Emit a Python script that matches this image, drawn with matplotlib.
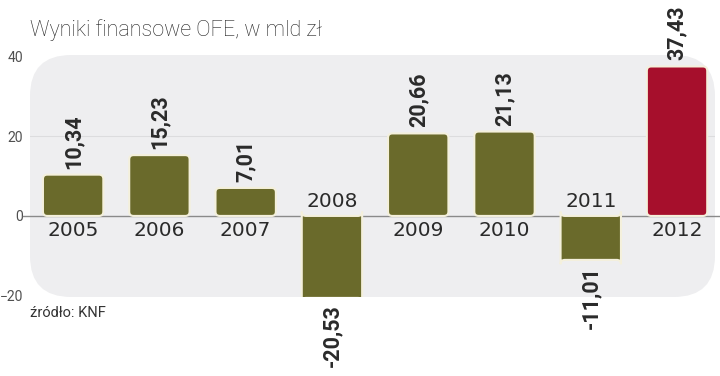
import matplotlib
matplotlib.use("Agg")
import matplotlib.pyplot as plt
from matplotlib.patches import FancyBboxPatch
from matplotlib.transforms import blended_transform_factory
import numpy as np

OLIVE, RED, PANEL, INK = "#6a6a2b", "#a60f2c", "#eeeef0", "#2a2a2a"

years = ["2005", "2006", "2007", "2008", "2009", "2010", "2011", "2012"]
values = [10.34, 15.23, 7.01, -20.53, 20.66, 21.13, -11.01, 37.43]
labels = ["10,34", "15,23", "7,01", "-20,53", "20,66", "21,13", "-11,01", "37,43"]
yticks = [-20, 0, 20, 40]

fig = plt.figure(figsize=(7.2, 3.76), dpi=100)
ax = fig.add_axes([30 / 720, 79 / 376, 685 / 720, 242 / 376])
ax.set_facecolor("none")
for s in ax.spines.values():
    s.set_visible(False)

panel = FancyBboxPatch((0, 0), 1, 1, boxstyle="round,pad=0,rounding_size=0.06",
                       mutation_aspect=685 / 242, transform=ax.transAxes,
                       facecolor=PANEL, edgecolor="none", zorder=0, clip_on=False)
ax.add_patch(panel)

ax.set_xlim(-0.5, 7.44)
ax.set_ylim(-20.3, 40.3)

x = np.arange(len(years))
colors = [OLIVE] * (len(years) - 1) + [RED]
bars = ax.bar(x, values, width=0.7, color=colors, zorder=3)
# swap the square bars for rounded ones of the same size
aspect = (60.6 / 242) / (7.94 / 685)
for b in bars:
    b.set_visible(False)
    x0, y0 = b.get_xy()
    ax.add_patch(FancyBboxPatch((x0, y0), b.get_width(), b.get_height(),
                                boxstyle="round,pad=0,rounding_size=0.05",
                                mutation_aspect=aspect, facecolor=b.get_facecolor(),
                                edgecolor="#f4f0dc", linewidth=1.5, zorder=3))

ax.axhline(20, color="#dcdcde", linewidth=0.8, zorder=1)
tr = blended_transform_factory(ax.transAxes, ax.transData)
ax.plot([-0.01, 1.01], [0, 0], color="#8a8a8a", linewidth=1, transform=tr,
        clip_on=False, zorder=2)

ax.set_xticks([])
ax.set_yticks(yticks)
ax.tick_params(axis="y", length=0, pad=5, labelsize=10, labelcolor="#505050")
for t in ax.get_yticklabels():
    t.set_family("Roboto")

valfont = dict(rotation=90, ha="center", fontsize=15.5, fontweight="bold",
               color=INK, family="Roboto", zorder=4, clip_on=False)
for xi, v, lab, yr in zip(x, values, labels, years):
    if v >= 0:
        ax.text(xi, v + 1.5, lab, va="bottom", **valfont)
        ax.text(xi, -3.6, yr, ha="center", va="center", fontsize=14.5,
                color=INK, zorder=4)
    else:
        ax.text(xi, v - 1.5, lab, va="top", **valfont)
        ax.text(xi, 3.6, yr, ha="center", va="center", fontsize=14.5,
                color=INK, zorder=4)

fig.text(30 / 720, 1 - 30 / 376, "Wyniki finansowe OFE, w mld zł", ha="left",
         va="center", fontsize=15.5, color="#222222", family="Roboto",
         fontweight="light")
fig.text(30 / 720, 1 - 313 / 376, "źródło: KNF", ha="left", va="center",
         fontsize=10.5, color="#333333", family="Roboto")

fig.savefig("out.png", dpi=100)
